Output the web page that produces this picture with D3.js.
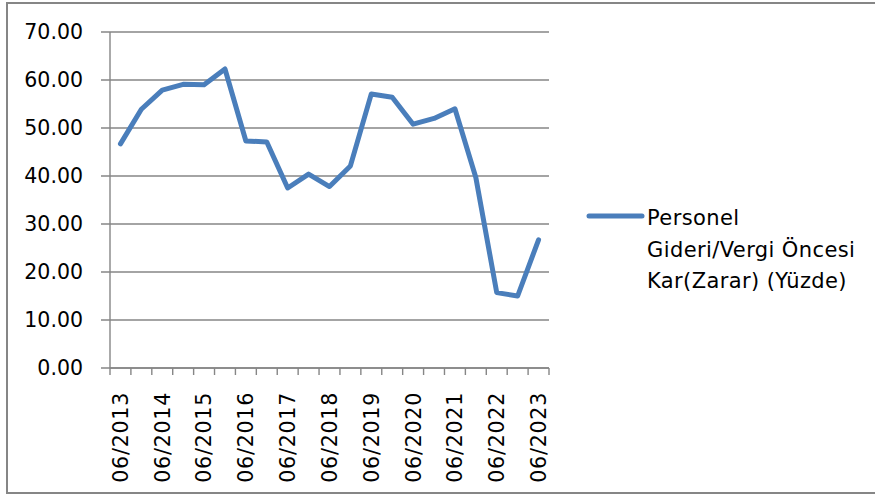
<!DOCTYPE html>
<html>
<head>
<meta charset="utf-8">
<script src="https://cdn.jsdelivr.net/npm/d3@7"></script>
<style>
  html, body { margin: 0; padding: 0; background: #fff; }
  svg { display: block; font-family: "DejaVu Sans", sans-serif; }
</style>
</head>
<body>
<svg id="chart" width="875" height="495"></svg>
<script>
// --- Data ---
const periods = [
    "06/2013", "12/2013", "06/2014", "12/2014", "06/2015", "12/2015",
    "06/2016", "12/2016", "06/2017", "12/2017", "06/2018", "12/2018",
    "06/2019", "12/2019", "06/2020", "12/2020", "06/2021", "12/2021",
    "06/2022", "12/2022", "06/2023"
];
const ratioValues = [
    46.7, 53.9, 57.9, 59.1, 59.0, 62.3,
    47.3, 47.1, 37.5, 40.4, 37.8, 42.1,
    57.1, 56.4, 50.8, 52.0, 54.0, 39.7,
    15.7, 15.0, 26.7
];
const yTicks = [0, 10, 20, 30, 40, 50, 60, 70];
const shownLabels = periods.filter((p, i) => i % 2 === 0);
const legendLines = ["Personel", "Gideri/Vergi Öncesi", "Kar(Zarar) (Yüzde)"];

const svg = d3.select("#chart");
const axisColor = "#868686";
const lineColor = "#4a7ebb";

// outer frame
svg.append("rect")
    .attr("x", 7).attr("y", 3)
    .attr("width", 880).attr("height", 490)
    .attr("fill", "none")
    .attr("stroke", axisColor)
    .attr("stroke-width", 2);

// --- Scales ---
const x = d3.scaleBand().domain(periods).range([110, 549]).padding(0);
const y = d3.scaleLinear().domain([0, 70]).range([368, 32]);

// gridlines
svg.append("g")
    .selectAll("line")
    .data(yTicks)
    .enter().append("line")
    .attr("x1", 101).attr("x2", 549)
    .attr("y1", d => y(d)).attr("y2", d => y(d))
    .attr("stroke", axisColor)
    .attr("stroke-width", 1.4);

// y axis line
svg.append("line")
    .attr("x1", 110).attr("x2", 110)
    .attr("y1", y(70)).attr("y2", y(0))
    .attr("stroke", axisColor).attr("stroke-width", 1.4);

// y labels
svg.append("g")
    .selectAll("text")
    .data(yTicks)
    .enter().append("text")
    .attr("x", 83)
    .attr("y", d => y(d))
    .attr("dy", "0.36em")
    .attr("text-anchor", "end")
    .attr("font-size", 20.5)
    .attr("fill", "#000")
    .text(d => d.toFixed(2));

// x axis line + ticks at band edges
svg.append("line")
    .attr("x1", 110).attr("x2", 549)
    .attr("y1", y(0)).attr("y2", y(0))
    .attr("stroke", axisColor).attr("stroke-width", 1.4);

const edges = periods.map(p => x(p)).concat([x.range()[1]]);
svg.append("g")
    .selectAll("line")
    .data(edges)
    .enter().append("line")
    .attr("x1", d => d).attr("x2", d => d)
    .attr("y1", y(0)).attr("y2", y(0) + 7)
    .attr("stroke", axisColor).attr("stroke-width", 1.4);

// x labels (every other period)
svg.append("g")
    .selectAll("text")
    .data(shownLabels)
    .enter().append("text")
    .attr("transform", d => `translate(${x(d) + x.bandwidth() / 2},392) rotate(-90)`)
    .attr("dy", "0.36em")
    .attr("text-anchor", "end")
    .attr("font-size", 20.5)
    .attr("letter-spacing", 0.8)
    .attr("fill", "#000")
    .text(d => d);

// --- Line ---
const line = d3.line()
    .x((d, i) => x(periods[i]) + x.bandwidth() / 2)
    .y(d => y(d));

svg.append("path")
    .datum(ratioValues)
    .attr("d", line)
    .attr("fill", "none")
    .attr("stroke", lineColor)
    .attr("stroke-width", 5)
    .attr("stroke-linejoin", "round")
    .attr("stroke-linecap", "round");

// --- Legend ---
svg.append("line")
    .attr("x1", 589).attr("x2", 642)
    .attr("y1", 216).attr("y2", 216)
    .attr("stroke", lineColor)
    .attr("stroke-width", 5)
    .attr("stroke-linecap", "round");

svg.append("g")
    .selectAll("text")
    .data(legendLines)
    .enter().append("text")
    .attr("x", 647)
    .attr("y", (d, i) => 225 + i * 31.5)
    .attr("font-size", 21)
    .attr("letter-spacing", 0.4)
    .attr("fill", "#000")
    .text(d => d);
</script>
</body>
</html>
